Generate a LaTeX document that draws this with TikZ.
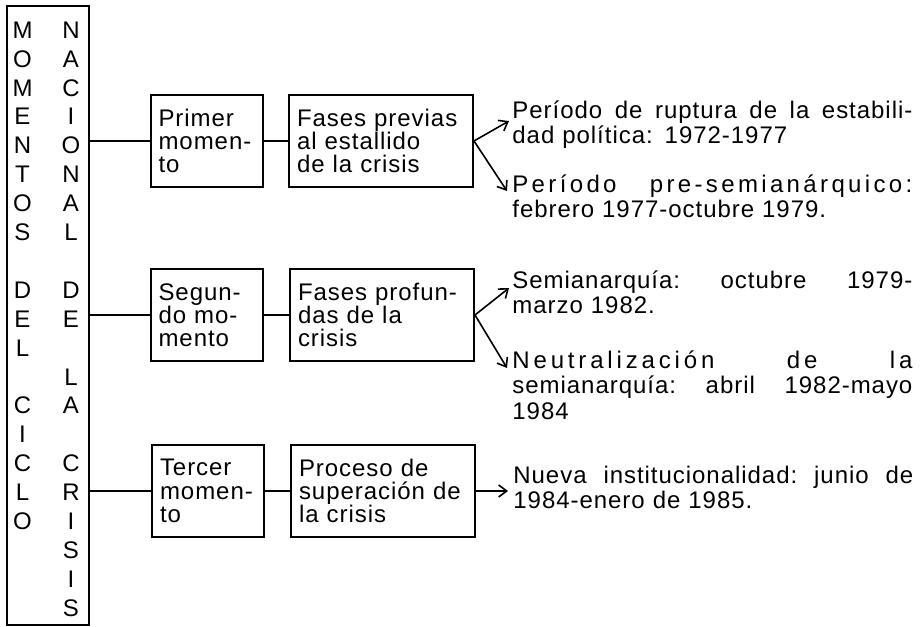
\documentclass[tikz,border=0pt]{standalone}
\usepackage{fontspec}
\setmainfont{Liberation Sans}[LetterSpace=4]
\usetikzlibrary{arrows.meta}

% justified line of the right column (optional letter spacing)
\newcommand{\renglon}[2][4]{\leavevmode\hbox to 200pt{\addfontfeature{LetterSpace=#1}\frenchspacing\spaceskip=.28em plus 1fil\relax #2}}

\tikzset{
  caja/.style={draw, line width=1pt, inner xsep=4pt, inner ysep=0pt,
    minimum height=46pt, align=left, font=\fontsize{12}{11.6}\selectfont},
  chica/.style={caja, text width=48pt},
  grande/.style={caja, text width=84pt},
  texto/.style={anchor=base west, inner sep=0pt, text width=200pt, align=left,
    font=\fontsize{12}{12.9}\selectfont},
  letra/.style={inner sep=0pt},
  linea/.style={line width=1pt},
  flecha/.style={line width=0.8pt, -{Straight Barb[length=4pt,width=6pt]}}
}

\begin{document}
\begin{tikzpicture}[x=0.5pt,y=-0.5pt,font=\fontsize{12}{12.5}\selectfont]
  \useasboundingbox (0,0) rectangle (922,627);

  % Tall frame on the left
  \node[draw, line width=1.2pt, minimum width=41pt, minimum height=309.5pt] (marco) at (48,315.5) {};

  % Vertical titles
  \foreach \l/\k in {M/0,O/1,M/2,E/3,N/4,T/5,O/6,S/7,D/9,E/10,L/11,C/13,I/14,C/15,L/16,O/17}{
    \node[letra] (ciclo\k) at (22.5,{30+28.9*\k}) {\l};
  }
  \foreach \l/\k in {N/0,A/1,C/2,I/3,O/4,N/5,A/6,L/7,D/9,E/10,L/12,A/13,C/15,R/16,I/17,S/18,I/19,S/20}{
    \node[letra] (crisis\k) at (71,{30+28.9*\k}) {\l};
  }

  % Moments
  \node[chica] (primer) at (206.5,141) {Primer\\momen-\\to};
  \node[chica] (segundo) at (206.5,315) {Segun-\\do mo-\\mento};
  \node[chica] (tercer) at (208,491) {Tercer\\momen-\\to};

  % Phases
  \node[grande] (previas) at (381,141) {Fases previas\\al estallido\\de la crisis};
  \node[grande] (profundas) at (382,315) {Fases profun-\\das de la\\crisis};
  \node[grande] (proceso) at (383,491) {Proceso de\\superación de\\la crisis};

  % Periods
  \node[texto] (ruptura) at (512,118) {\renglon{Período de ruptura de la estabili-}\\dad política: 1972-1977};
  \node[texto] (presemi) at (512,192) {\renglon[14]{Período pre-semianárquico:}\\febrero 1977-octubre 1979.};
  \node[texto] (semi) at (512,288) {\renglon{Semianarquía: octubre 1979-}\\marzo 1982.};
  \node[texto] (neutral) at (512,368) {\renglon[16]{Neutralización de la}\\\renglon{semianarquía: abril 1982-mayo}\\1984};
  \node[texto] (nueva) at (513,483) {\renglon{Nueva institucionalidad: junio de}\\1984-enero de 1985.};

  % Connectors
  \foreach \m/\f in {primer/previas,segundo/profundas,tercer/proceso}{
    \draw[linea] (marco.east |- \m.west) -- (\m.west);
    \draw[linea] (\m) -- (\f);
  }
  \draw[flecha] (previas.east) -- ([shift={(-3,3)}]ruptura.base west);
  \draw[flecha] (previas.east) -- ([shift={(-5,-1)}]presemi.base west);
  \draw[flecha] (profundas.east) -- ([shift={(-3,0)}]semi.base west);
  \draw[flecha] (profundas.east) -- ([shift={(-5,0)}]neutral.base west);
  \draw[flecha, shorten >=2.5pt] (proceso.east) -- (proceso.east -| nueva.west);

\end{tikzpicture}
\end{document}
